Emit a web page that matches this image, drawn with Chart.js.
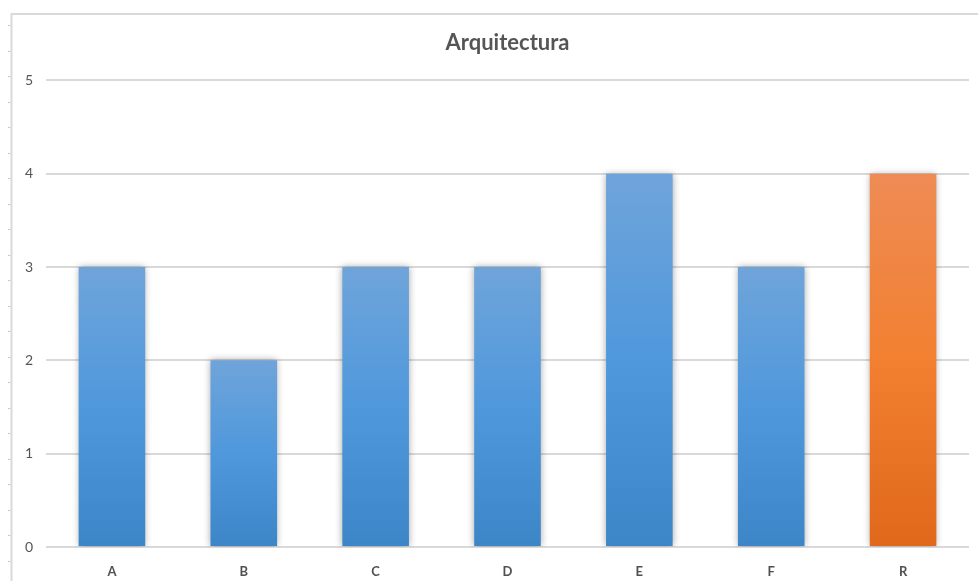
<!DOCTYPE html>
<html>
<head>
<meta charset="utf-8">
<title>Arquitectura</title>
<script src="https://cdn.jsdelivr.net/npm/chart.js@4/dist/chart.umd.min.js"></script>
<style>
  html, body { margin: 0; padding: 0; background: #ffffff; }
  #wrap { width: 978px; height: 581px; position: relative; }
</style>
</head>
<body>
<div id="wrap"><canvas id="chart" width="978" height="581"></canvas></div>
<script>
// Chart data
const categories = ['A', 'B', 'C', 'D', 'E', 'F', 'R'];
const scores = [3, 2, 3, 3, 4, 3, 4];
const highlightCategory = 'R';
const yTicks = [0, 1, 2, 3, 4, 5];

// Colour stops (top → bottom) for each bar style
const blueStops = ['#6fa4da', '#4f98dc', '#3c85c7'];
const orangeStops = ['#ee8b55', '#f28030', '#e0681a'];

function barGradient(ctx) {
  const chart = ctx.chart;
  if (!chart.chartArea || ctx.type !== 'data') return blueStops[1];
  const y = chart.scales.y;
  const top = y.getPixelForValue(ctx.raw);
  const bottom = y.getPixelForValue(0);
  const stops = categories[ctx.dataIndex] === highlightCategory ? orangeStops : blueStops;
  const g = chart.ctx.createLinearGradient(0, top, 0, bottom);
  g.addColorStop(0, stops[0]);
  g.addColorStop(0.5, stops[1]);
  g.addColorStop(1, stops[2]);
  return g;
}

// Outer frame with small row ticks on the left edge, plus soft bar shadows
const framePlugin = {
  id: 'frame',
  beforeDraw(chart) {
    const c = chart.ctx;
    c.save();
    c.fillStyle = '#ffffff';
    c.fillRect(0, 0, chart.width, chart.height);
    c.strokeStyle = '#d9d9d9';
    c.lineWidth = 2;
    c.beginPath();
    c.moveTo(11.5, chart.height);
    c.lineTo(11.5, 14);
    c.lineTo(chart.width, 14);
    c.stroke();
    c.lineWidth = 1;
    c.strokeStyle = '#c8c8c8';
    for (let y = 25; y < chart.height; y += 25.5) {
      c.beginPath();
      c.moveTo(8, Math.round(y) + 0.5);
      c.lineTo(10.5, Math.round(y) + 0.5);
      c.stroke();
    }
    c.restore();
  },
  beforeDatasetDraw(chart) {
    const c = chart.ctx;
    c.save();
    c.shadowColor = 'rgba(0,0,0,0.35)';
    c.shadowBlur = 7;
    c.shadowOffsetX = 0;
    c.shadowOffsetY = 0;
  },
  afterDatasetDraw(chart) {
    chart.ctx.restore();
  }
};

new Chart(document.getElementById('chart'), {
  type: 'bar',
  data: {
    labels: categories,
    datasets: [{
      data: scores,
      backgroundColor: barGradient,
      borderWidth: 0,
      barPercentage: 1,
      categoryPercentage: 0.505
    }]
  },
  options: {
    responsive: false,
    animation: false,
    layout: { padding: { left: 12, right: 9, top: 20, bottom: 0 } },
    plugins: {
      legend: { display: false },
      tooltip: { enabled: false },
      title: {
        display: true,
        fullSize: false,
        text: 'Arquitectura',
        color: '#555555',
        font: { family: 'Lato, "Open Sans", sans-serif', size: 22, weight: 'bold', lineHeight: 1.2 },
        padding: { top: 10, bottom: 24 }
      }
    },
    scales: {
      x: {
        grid: { display: false, drawTicks: false },
        border: { display: false },
        ticks: {
          color: '#505050',
          padding: 17,
          font: { family: 'Lato, "Open Sans", sans-serif', size: 13, weight: 'bold' }
        },
        afterFit(scale) { scale.height = 34; }
      },
      y: {
        min: 0,
        max: 5,
        afterBuildTicks(scale) { scale.ticks = yTicks.map(v => ({ value: v })); },
        grid: { color: '#d9d9d9', lineWidth: 2, drawTicks: false },
        border: { display: false },
        ticks: {
          color: '#555555',
          padding: 13,
          font: { family: 'Lato, "Open Sans", sans-serif', size: 14 }
        },
        afterFit(scale) { scale.width = 34; }
      }
    }
  },
  plugins: [framePlugin]
});
</script>
</body>
</html>
